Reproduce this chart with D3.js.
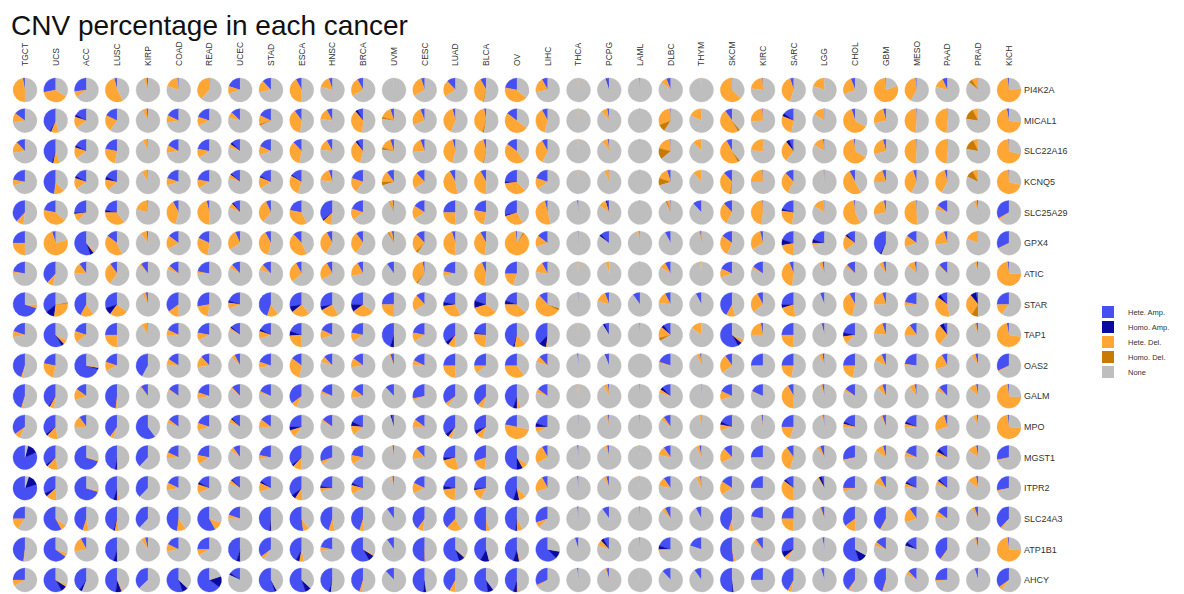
<!DOCTYPE html>
<html>
<head>
<meta charset="utf-8">
<script src="https://cdn.jsdelivr.net/npm/d3@7"></script>
<style>
  html, body { margin: 0; padding: 0; background: #fff; }
  svg { display: block; font-family: "Liberation Sans", Arial, sans-serif; }
</style>
</head>
<body>
<svg id="chart" width="1184" height="594"></svg>
<script>
// Cancer types (columns) and genes (rows)
const cancers = ["TGCT","UCS","ACC","LUSC","KIRP","COAD","READ","UCEC","STAD","ESCA","HNSC",
  "BRCA","UVM","CESC","LUAD","BLCA","OV","LIHC","THCA","PCPG","LAML","DLBC",
  "THYM","SKCM","KIRC","SARC","LGG","CHOL","GBM","MESO","PAAD","PRAD","KICH"];
const genes = ["PI4K2A","MICAL1","SLC22A16","KCNQ5","SLC25A29","GPX4","ATIC","STAR","TAP1",
  "OAS2","GALM","MPO","MGST1","ITPR2","SLC24A3","ATP1B1","AHCY"];
const cnvTypes = ["Hete. Amp.","Homo. Amp.","Hete. Del.","Homo. Del.","None"];
const cnvColors = ["#4650F2","#0A0AA0","#FFA635","#C97A05","#BEBEBE"];

// Percent of samples per gene (row) and cancer (column)
const heteAmp = [
  [3,28,27,4,2,2,1,20,12,8,5, 8,0,5,12,8,22,8,0,4,1,6, 0,1,1,5,0,6,1,2,7,1,2],
  [15,42,17,18,2,18,20,13,18,10,8, 8,5,6,4,3,15,8,0,3,0.5,1, 0,10,1,15,1,5,4,1,1,0,3],
  [12,45,17,22,1,17,22,12,18,12,8, 8,5,6,4,4,15,8,0,2,0.5,1, 0,8,0,6,2,2,4,1,1,0,1],
  [22,48,17,18,1,20,22,13,17,15,5, 20,10,12,8,8,25,20,0,1,0.5,5, 0,12,1,12,1,8,5,5,4,0,1],
  [38,22,25,22,1,8,4,10,7,22,35, 20,2,16,25,22,28,4,2,3,0.5,1, 12,12,1,20,1,2,3,1,15,2,33],
  [25,5,55,15,2,15,18,7,8,12,8, 10,3,12,5,8,2,15,1,12,1,8, 2,15,4,20,20,12,42,15,5,1,32],
  [22,38,10,10,10,14,22,12,12,8,8, 8,10,3,22,6,25,8,0,0,0.5,8, 0,18,15,6,3,12,4,3,12,2,2],
  [70,36,42,30,3,35,28,20,45,28,28, 25,25,12,22,20,20,12,1,6,10,8, 8,42,8,25,6,8,5,22,10,3,25],
  [20,58,20,25,1,18,22,13,17,20,18, 22,45,22,35,22,45,38,0,6,1,10, 0,58,3,25,4,22,5,10,5,3,3],
  [45,22,70,20,42,16,12,8,20,15,12, 15,5,18,25,25,25,12,2,5,0,20, 2,10,25,25,3,25,6,23,8,4,32],
  [45,40,15,48,10,15,20,12,18,35,18, 15,12,28,35,38,45,15,0,2,1,12, 1,18,18,8,3,15,5,3,12,3,2],
  [35,35,10,40,60,15,20,12,15,25,15, 18,3,15,35,30,22,20,1,2,1,10, 1,18,2,25,2,18,5,18,5,2,2],
  [82,35,70,47,38,18,22,10,22,35,30, 22,2,12,25,30,50,8,2,3,0,10, 3,12,25,10,6,28,4,18,12,3,28],
  [80,32,70,45,38,18,17,12,15,35,22, 18,2,18,22,25,45,8,2,4,0,10, 2,16,25,12,4,25,8,16,12,3,28],
  [25,58,45,45,38,48,58,20,48,52,45, 45,10,40,38,50,48,30,2,10,1,8, 8,45,22,25,5,35,42,10,15,5,38],
  [48,65,8,45,4,18,25,45,35,42,22, 58,10,50,55,42,45,62,5,8,1,20, 20,52,10,28,3,55,15,15,40,3,2],
  [25,58,40,48,37,55,65,15,55,55,45, 45,12,48,42,52,45,32,2,4,0,12, 10,50,25,42,5,40,45,12,25,5,35]
];
const homoAmp = [
  [0,0,0,0,0,0,0,0,0,0,0, 0,0,0,0,0,0,0,0,1,0,0, 0,0,0,0,0,0,0,0,0,0,0],
  [0,2,3,0,0,0,0,0,0,0,0, 3,0,0,0,0,0,0,0,0,0,0, 0,0,0,4,0,0,0,0,0,0,0],
  [0,2,3,0,0,0,0,3,0,0,0, 3,0,0,0,0,0,0,0,0,0,0, 0,0,0,5,0,0,0,0,0,0,0],
  [0,0,3,4,0,0,0,2,2,2,0, 0,0,0,0,0,2,0,0,0,0,0, 0,0,0,0,0,0,0,0,0,0,0],
  [0,0,2,3,0,0,0,2,0,0,2, 0,0,0,0,0,2,0,0,2,0,0, 0,0,0,3,0,0,0,0,0,0,0],
  [0,0,5,0,0,0,0,0,0,0,0, 0,0,0,0,0,0,0,0,3,0,0, 0,0,0,8,5,3,2,0,0,0,0],
  [0,0,0,0,0,0,0,0,0,0,0, 0,0,0,0,0,0,0,0,0,0,0, 0,0,0,0,0,0,0,0,0,0,0],
  [0,12,0,10,0,0,0,3,0,8,5, 10,0,0,5,10,5,0,0,0,0,0, 0,0,0,5,0,0,0,0,5,8,0],
  [0,4,0,0,0,0,0,2,3,6,0, 0,5,0,5,2,2,10,0,3,0,4, 0,6,0,0,0,5,0,0,6,0,0],
  [0,0,2,0,0,0,0,0,0,0,0, 0,0,0,0,0,0,0,0,1,0,0, 0,0,0,0,0,0,0,0,0,0,0],
  [0,2,0,0,0,0,0,0,0,0,0, 0,0,0,0,0,5,0,0,0,0,4, 0,0,0,0,0,0,0,0,0,0,0],
  [0,3,0,0,0,0,0,2,0,5,0, 6,2,0,5,5,0,5,0,0,0,0, 0,4,0,0,0,3,0,3,0,0,0],
  [14,3,0,3,0,0,0,0,0,3,0, 0,0,0,4,0,8,0,0,0,0,0, 0,0,0,0,0,0,0,0,5,0,0],
  [15,5,0,5,0,0,3,2,3,6,3, 3,0,0,5,3,8,0,0,0,0,0, 0,0,0,3,4,0,0,3,3,0,0],
  [0,0,0,2,0,0,0,0,2,0,0, 0,0,0,0,0,2,0,0,0,0,0, 0,0,0,0,0,0,0,0,0,0,0],
  [0,0,0,5,0,0,0,5,0,5,0, 8,0,0,8,12,8,10,0,4,0,5, 0,0,0,8,0,12,0,5,0,0,0],
  [0,8,4,8,0,8,15,3,3,8,3, 0,0,4,0,8,5,0,0,0,0,0, 0,2,0,0,0,0,0,0,0,0,0]
];
const heteDel = [
  [47,38,8,54,4,18,37,10,16,42,16, 25,1,28,22,38,42,20,1,0,0,8, 1.5,62,22,40,20,25,80,40,14,8,75],
  [13,10,15,22,6,10,12,8,12,38,15, 38,15,25,40,42,50,38,1,8,0,30, 18,48,25,28,15,62,25,48,48,8,70],
  [15,8,15,25,6,10,12,5,12,35,15, 35,15,20,42,42,45,35,1,8,0,20, 12,50,24,28,14,65,25,48,48,7,70],
  [8,14,15,15,8,10,12,5,15,28,18, 20,15,22,45,42,35,15,1,6,0,15, 12,35,24,30,2,50,20,38,38,8,70],
  [10,42,10,35,20,38,46,6,32,35,12, 15,4,18,25,25,28,50,0,10,0,4, 0,30,47,25,15,55,25,50,6,4,3],
  [25,75,3,42,8,18,30,27,38,45,33, 30,4,25,45,40,88,15,1,0,2,0, 2,28,30,22,4,20,0,15,22,18,1],
  [3,8,15,30,3,5,3,5,8,28,25, 20,0,35,6,42,20,15,2,5,0,8, 2,12,3,42,5,4,6,10,2,3,73],
  [5,28,18,25,5,15,20,8,15,25,25, 30,25,22,30,35,38,55,1,15,0,15, 0,12,28,22,0,38,20,5,38,30,15],
  [8,6,15,25,8,8,10,3,10,24,12, 12,0,12,10,25,15,2,1,0,0,15, 15,5,22,25,1,10,18,15,28,3,70],
  [2,25,2,12,0,8,15,5,8,32,8, 12,2,6,25,10,35,8,0,0,0,2, 5,25,1,22,5,22,12,2,22,5,2],
  [2,6,15,2,2,2,8,2,3,8,4, 12,0,3,5,8,5,5,2,6,0,5, 0,12,1,42,3,3,8,8,5,10,72],
  [8,15,15,5,0,5,10,5,10,10,3, 12,0,10,5,10,50,8,0,3,0,5, 2,8,2,20,2,5,3,5,25,5,72],
  [0,15,2,2,0,8,12,5,5,12,5, 12,1,15,25,18,8,25,0,3,2,12, 5,20,1,35,5,2,12,6,6,12,2],
  [0,14,2,3,0,10,12,5,12,10,5, 12,2,14,22,15,10,22,0,4,2,12, 6,18,0,35,2,5,10,5,5,12,2],
  [15,8,8,5,0,12,12,5,2,8,8, 6,0,8,20,5,8,8,0,0,0,5, 0,6,1,25,2,15,2,20,8,4,3],
  [1,5,20,1,6,10,8,0,5,6,5, 2,0,2,2,0,2,0,0,8,0,2, 0,3,5,5,0,0,5,0,2,3,72],
  [8,3,0,2,0,0,0,0,0,0,1, 4,0,0,8,0,3,2,0,2,1,0, 0,0,0,5,0,3,2,5,2,0,5]
];
const homoDel = [
  [0,0,0,0,0,0,0,0,0,0,0, 0,0,0,0,1,0,0,0,0,0,0, 0,0,0,0,0,0,0,0,0,5,0],
  [0,0,0,0,0,0,0,0,2,0,0, 0,3,0,0,2,0,0,0,0,0,10, 0,3,0,0,0,0,0,0,0,15,0],
  [0,0,0,0,0,0,0,0,0,0,0, 0,3,0,0,1,0,0,0,0,0,15, 0,3,0,0,0,0,0,0,0,15,0],
  [0,0,0,0,0,0,0,0,0,0,0, 0,5,0,0,0,0,0,0,0,0,10, 0,2,0,0,0,0,0,0,0,10,0],
  [0,0,0,0,0,0,0,0,0,0,0, 0,1,0,0,0,0,0,0,0,0,2, 0,0,0,0,0,0,0,0,0,0,0],
  [0,0,0,0,0,0,0,0,0,0,0, 0,2,3,0,0,2,0,0,0,0,0, 0,0,0,0,0,0,0,0,0,0,0],
  [0,0,0,0,0,0,0,0,0,0,0, 0,0,2,0,0,0,0,0,0,0,0, 0,0,0,0,0,0,0,0,0,0,0],
  [0,2,0,0,0,0,0,0,0,0,0, 0,0,0,0,0,0,3,0,0,0,0, 0,0,0,0,0,0,0,0,0,9,0],
  [0,0,0,0,0,0,0,0,0,0,0, 0,0,0,0,0,0,0,0,0,0,4, 0,0,0,0,0,0,0,0,0,0,0],
  [0,0,0,0,0,0,0,0,0,0,0, 0,0,0,0,0,0,0,0,0,0,0, 0,0,0,0,0,0,0,0,0,0,0],
  [0,0,0,0,0,0,0,0,0,0,0, 0,0,0,0,0,0,0,0,0,0,0, 0,0,0,0,0,0,0,0,0,0,0],
  [0,0,0,0,0,0,0,0,0,0,0, 0,0,0,0,0,0,0,0,0,0,0, 0,0,0,0,0,0,0,0,0,0,0],
  [0,0,0,0,0,0,0,0,0,0,0, 0,0,0,0,0,0,0,0,0,0,0, 0,0,0,0,0,0,0,0,0,0,0],
  [0,0,0,0,0,0,0,0,0,0,0, 0,0,0,0,0,0,0,0,0,0,0, 0,0,0,0,0,0,0,0,0,0,0],
  [0,0,0,0,0,0,0,0,0,0,0, 0,0,0,0,0,0,0,0,0,0,0, 0,0,0,0,0,0,0,0,0,0,0],
  [0,0,0,0,0,0,0,0,0,0,0, 0,0,0,0,0,0,0,0,0,0,0, 0,0,0,0,0,0,0,0,0,0,0],
  [0,0,0,0,0,0,0,0,0,0,0, 0,0,0,0,0,0,0,0,0,0,0, 0,0,0,0,0,0,0,0,0,0,0]
];

const svg = d3.select("#chart");
svg.append("rect").attr("width", 1184).attr("height", 594).attr("fill", "#fff");

svg.append("text")
  .attr("x", 11).attr("y", 35)
  .attr("font-size", 28)
  .attr("fill", "#111")
  .text("CNV percentage in each cancer");

const x = d3.scalePoint().domain(cancers).range([25, 1009]);
const y = d3.scalePoint().domain(genes).range([90, 580]);
const color = d3.scaleOrdinal().domain(cnvTypes).range(cnvColors);
const radius = 12;

// Slices run counter-clockwise from 12 o'clock in legend order
const pie = d3.pie().sort(null).value(d => d.value)
  .startAngle(0).endAngle(-2 * Math.PI);
const arc = d3.arc().innerRadius(0).outerRadius(radius);

const cells = [];
genes.forEach((g, gi) => {
  cancers.forEach((c, ci) => {
    const parts = [heteAmp[gi][ci], homoAmp[gi][ci], heteDel[gi][ci], homoDel[gi][ci]];
    const none = Math.max(0, 100 - d3.sum(parts));
    cells.push({
      gene: g, cancer: c,
      slices: cnvTypes.map((t, k) => ({ type: t, value: k < 4 ? parts[k] : none }))
    });
  });
});

const grid = svg.append("g").attr("class", "pies");
const cell = grid.selectAll("g.cell").data(cells).join("g")
  .attr("class", "cell")
  .attr("transform", d => `translate(${x(d.cancer)},${y(d.gene)})`);

cell.selectAll("path").data(d => pie(d.slices).filter(s => s.data.value > 0)).join("path")
  .attr("d", arc)
  .attr("fill", s => color(s.data.type))
  .attr("stroke", s => color(s.data.type))
  .attr("stroke-width", 0.3);

// Column labels (cancer types), read bottom-to-top
svg.append("g").selectAll("text").data(cancers).join("text")
  .attr("transform", d => `translate(${x(d)},66) rotate(-90)`)
  .attr("dy", "0.35em")
  .attr("text-anchor", "start")
  .attr("font-size", 8.5)
  .attr("fill", "#333")
  .text(d => d);

// Row labels (genes)
svg.append("g").selectAll("text").data(genes).join("text")
  .attr("x", 1024).attr("y", d => y(d))
  .attr("dy", "0.35em")
  .attr("font-size", 9)
  .attr("fill", "#333")
  .text(d => d);

// Legend
const legend = svg.append("g").attr("transform", "translate(1102,306)");
const item = legend.selectAll("g").data(cnvTypes).join("g")
  .attr("transform", (d, i) => `translate(0,${i * 15})`);
item.append("rect").attr("width", 12).attr("height", 12).attr("fill", d => color(d));
item.append("text").attr("x", 26).attr("y", 6).attr("dy", "0.35em")
  .attr("font-size", 7.5).attr("fill", "#333").text(d => d);
</script>
</body>
</html>
